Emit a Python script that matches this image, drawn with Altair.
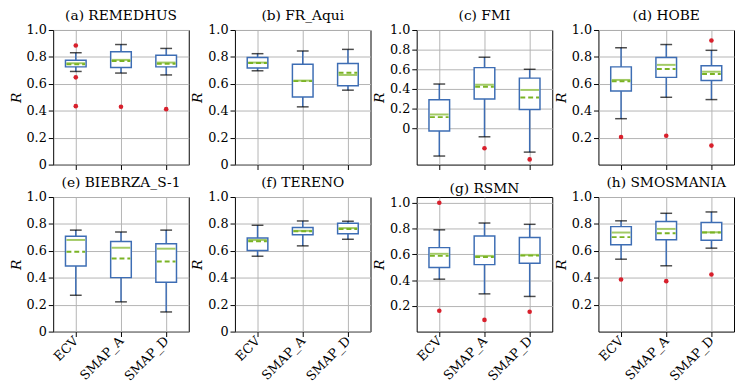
import altair as alt
import pandas as pd

stations = ["(a) REMEDHUS", "(b) FR_Aqui", "(c) FMI", "(d) HOBE",
            "(e) BIEBRZA_S-1", "(f) TERENO", "(g) RSMN", "(h) SMOSMANIA"]
products = ["ECV", "SMAP_A", "SMAP_D"]

# per station: values for ECV, SMAP_A, SMAP_D
lower = [[0.692, 0.680, 0.666], [0.697, 0.429, 0.553], [-0.283, -0.087, -0.243], [0.341, 0.500, 0.483],
         [0.270, 0.221, 0.146], [0.560, 0.637, 0.686], [0.407, 0.293, 0.273], [0.538, 0.489, 0.620]]
q1 = [[0.726, 0.722, 0.726], [0.717, 0.502, 0.585], [-0.027, 0.297, 0.190], [0.546, 0.648, 0.624],
      [0.487, 0.401, 0.367], [0.603, 0.720, 0.727], [0.497, 0.520, 0.530], [0.646, 0.683, 0.678]]
median = [[0.753, 0.778, 0.758], [0.758, 0.624, 0.666], [0.140, 0.443, 0.390], [0.629, 0.741, 0.690],
          [0.681, 0.623, 0.616], [0.681, 0.749, 0.769], [0.604, 0.588, 0.596], [0.736, 0.763, 0.738]]
mean = [[0.745, 0.770, 0.750], [0.755, 0.620, 0.683], [0.113, 0.423, 0.313], [0.619, 0.710, 0.673],
        [0.594, 0.543, 0.521], [0.672, 0.745, 0.762], [0.588, 0.580, 0.590], [0.702, 0.731, 0.736]]
q3 = [[0.775, 0.838, 0.812], [0.795, 0.746, 0.751], [0.290, 0.617, 0.510], [0.726, 0.795, 0.734],
      [0.708, 0.669, 0.652], [0.696, 0.774, 0.805], [0.652, 0.742, 0.730], [0.780, 0.818, 0.811]]
upper = [[0.831, 0.892, 0.863], [0.824, 0.844, 0.856], [0.450, 0.723, 0.600], [0.868, 0.892, 0.849],
         [0.754, 0.740, 0.754], [0.790, 0.822, 0.820], [0.790, 0.843, 0.833], [0.823, 0.879, 0.889]]
outliers = [
    [[0.885, 0.648, 0.434], [0.430], [0.412]],
    [[], [], []],
    [[], [-0.203], [-0.317]],
    [[0.205], [0.214], [0.922, 0.141]],
    [[], [], []],
    [[], [], []],
    [[1.0, 0.162], [0.091], [0.154]],
    [[0.387], [0.375], [0.424]],
]

y_domains = [[0, 1], [0, 1], [-0.37, 1.0], [0, 1], [0, 1], [0, 1], [0, 1.045], [0, 1]]
y_ticks = [[0, 0.2, 0.4, 0.6, 0.8, 1.0], [0, 0.2, 0.4, 0.6, 0.8, 1.0], [0, 0.2, 0.4, 0.6, 0.8, 1.0],
           [0.2, 0.4, 0.6, 0.8, 1.0], [0, 0.2, 0.4, 0.6, 0.8, 1.0], [0, 0.2, 0.4, 0.6, 0.8, 1.0],
           [0.2, 0.4, 0.6, 0.8, 1.0], [0.2, 0.4, 0.6, 0.8, 1.0]]

FONT = "DejaVu Serif"
BLUE = "#3d6db4"
GREEN = "#7ab324"
RED = "#d8202c"
W, H = 138, 137
BOXW = 21


def panel(i):
    df = pd.DataFrame({"product": products, "low": lower[i], "q1": q1[i], "med": median[i],
                       "mean": mean[i], "q3": q3[i], "up": upper[i]})
    rows = [(p, v) for p, vs in zip(products, outliers[i]) for v in vs]
    odf = pd.DataFrame(rows, columns=["product", "value"])
    bottom = i >= 4
    xaxis = alt.Axis(title=None, labels=bottom, labelAngle=-45 if bottom else 0,
                     labelAlign="right", labelBaseline="middle", ticks=True)
    xs = alt.Scale(type="point", padding=0.5, domain=products)
    x = alt.X("product:N", scale=xs, axis=xaxis)
    ys = alt.Scale(domain=y_domains[i], nice=False, zero=False)
    yaxis = alt.Axis(title="R", values=y_ticks[i],
                     labelExpr="datum.value == 0 ? '0' : format(datum.value, '.1f')")
    base = alt.Chart(df)
    whisk = base.mark_rule(color=BLUE, strokeWidth=1.5).encode(
        x=x, y=alt.Y("low:Q", scale=ys, axis=yaxis), y2="up:Q")
    box = base.mark_bar(size=BOXW, fill="white", stroke=BLUE, strokeWidth=1.5).encode(
        x=x, y=alt.Y("q1:Q", scale=ys, axis=yaxis), y2="q3:Q")
    capl = base.mark_tick(size=12, thickness=1.5, color="black").encode(
        x=x, y=alt.Y("low:Q", scale=ys, axis=yaxis))
    capu = base.mark_tick(size=12, thickness=1.5, color="black").encode(
        x=x, y=alt.Y("up:Q", scale=ys, axis=yaxis))
    med = base.mark_tick(size=BOXW - 2, thickness=2, color=GREEN).encode(
        x=x, y=alt.Y("med:Q", scale=ys, axis=yaxis))
    mn = base.mark_rule(color=GREEN, strokeWidth=2, strokeDash=[5, 3], xOffset=-9.5, x2Offset=9.5).encode(
        x=x, x2="product:N", y=alt.Y("mean:Q", scale=ys, axis=yaxis))
    layers = [whisk, box, capl, capu, med, mn]
    if rows:
        pts = alt.Chart(odf).mark_circle(size=22, color=RED, opacity=1).encode(
            x=x, y=alt.Y("value:Q", scale=ys, axis=yaxis))
        layers.append(pts)
    return alt.layer(*layers).properties(
        width=W, height=H,
        title=alt.TitleParams(stations[i], fontSize=14, fontWeight="normal", offset=1, font=FONT))


chart = alt.concat(*[panel(i) for i in range(8)], columns=4,
                   spacing={"row": 33, "column": 47}).properties(
    bounds="flush", padding={"top": -3, "left": 0, "right": 0, "bottom": 0}
).configure(
    font=FONT
).configure_view(
    stroke="black", strokeWidth=1
).configure_axis(
    domain=False, grid=True, gridColor="#b4b4b4", gridWidth=1,
    tickColor="black", tickSize=5, tickWidth=1,
    labelFont=FONT, labelFontSize=13, labelColor="black", labelPadding=2,
    titleFont=FONT, titleFontSize=14, titleFontStyle="italic",
    titleFontWeight="normal", titleColor="black", titlePadding=3
).configure_title(
    color="black", anchor="middle"
)

chart.save("out.html", embed_options={"renderer": "svg", "actions": False})
